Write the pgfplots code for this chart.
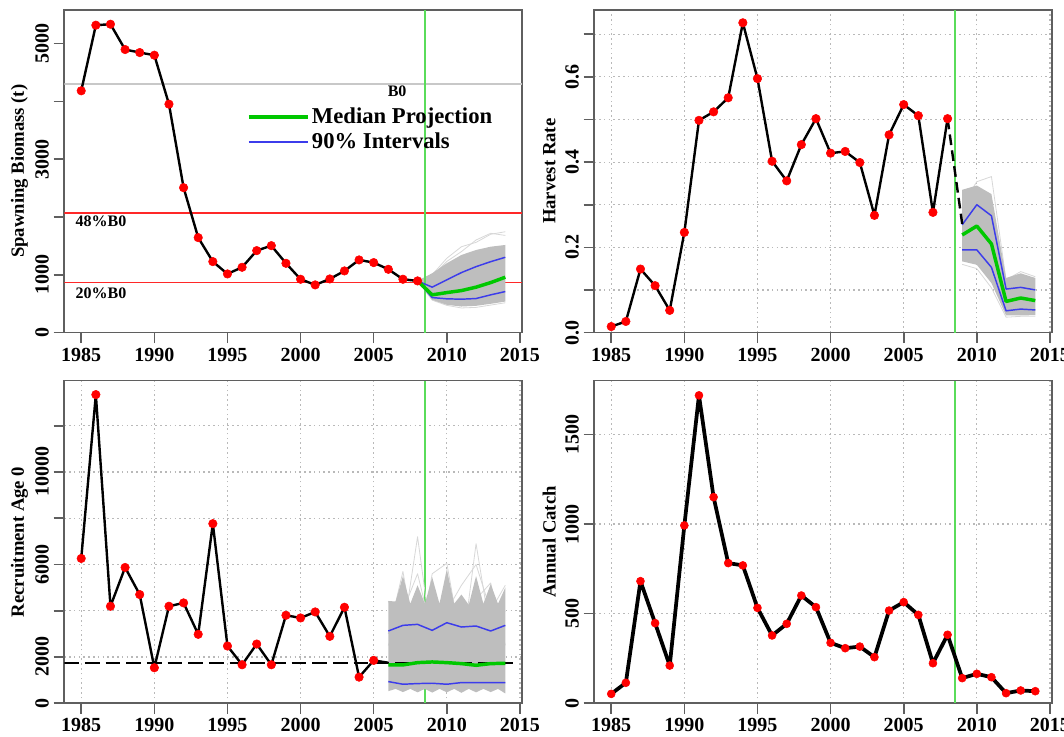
\documentclass[border=0pt]{standalone}
\usepackage{pgfplots}
\pgfplotsset{compat=1.18}
\usepackage{pgfplotstable}
\usepackage{fontspec}
\setmainfont{Liberation Serif}

\definecolor{boxgray}{RGB}{95,95,95}
\definecolor{vgreen}{RGB}{90,220,90}
\definecolor{medgreen}{RGB}{0,200,0}
\definecolor{iblue}{RGB}{60,60,235}
\definecolor{fangray}{RGB}{190,190,190}
\definecolor{outgray}{RGB}{215,215,215}
\definecolor{b0gray}{RGB}{200,200,200}
\definecolor{gridgray}{RGB}{185,185,185}
\definecolor{refred}{RGB}{255,40,40}

% ---------------- data ----------------
\pgfplotstableread{
year val
1985 4182
1986 5317
1987 5334
1988 4896
1989 4844
1990 4798
1991 3951
1992 2506
1993 1642
1994 1227
1995 1014
1996 1129
1997 1417
1998 1503
1999 1198
2000 922
2001 824
2002 927
2003 1066
2004 1256
2005 1210
2006 1094
2007 922
2008 893
}\ssbobs
\pgfplotstableread{
year med lo hi
2008 893 893 893
2009 652 605 785
2010 691 583 911
2011 726 577 1037
2012 785 588 1140
2013 864 652 1226
2014 957 709 1302
}\ssbproj
\pgfplotstableread{
x ref
1983.84 2070
2015.16 2070
}\ssbfortyeight
\pgfplotstableread{
x ref
1983.84 864
2015.16 864
}\ssbtwenty

\pgfplotstableread{
year val
1985 0.014
1986 0.026
1987 0.149
1988 0.110
1989 0.052
1990 0.235
1991 0.498
1992 0.518
1993 0.551
1994 0.727
1995 0.596
1996 0.402
1997 0.356
1998 0.441
1999 0.502
2000 0.421
2001 0.425
2002 0.399
2003 0.275
2004 0.464
2005 0.535
2006 0.509
2007 0.282
2008 0.502
}\hrobs
\pgfplotstableread{
year med lo hi
2009 0.229 0.194 0.253
2010 0.250 0.194 0.300
2011 0.208 0.153 0.274
2012 0.073 0.051 0.102
2013 0.081 0.055 0.106
2014 0.075 0.053 0.100
}\hrproj

\pgfplotstableread{
year val
1985 6261
1986 13347
1987 4193
1988 5871
1989 4700
1990 1533
1991 4193
1992 4338
1993 2979
1994 7765
1995 2473
1996 1663
1997 2559
1998 1663
1999 3803
2000 3687
2001 3948
2002 2892
2003 4150
2004 1128
2005 1851
}\recobs
\pgfplotstableread{
year med lo hi
2006 1655 935 3123
2007 1655 820 3367
2008 1755 849 3410
2009 1784 863 3151
2010 1755 820 3482
2011 1712 892 3295
2012 1640 892 3339
2013 1712 892 3123
2014 1727 892 3367
}\recproj

\pgfplotstableread{
year val
1985 52
1986 114
1987 681
1988 447
1989 210
1990 992
1991 1718
1992 1150
1993 782
1994 769
1995 532
1996 378
1997 443
1998 601
1999 536
2000 337
2001 307
2002 316
2003 257
2004 517
2005 564
2006 493
2007 223
2008 382
2009 140
2010 164
2011 145
2012 56
2013 71
2014 67
}\catchobs

\pgfplotsset{
 panel/.style={
  scale only axis, width=343.5pt, height=241.9pt,
  xmin=1983.84, xmax=2015.16, ymin=0,
  scaled ticks=false,
  xtick={1985,1990,1995,2000,2005,2010,2015},
  xticklabels={1985,1990,1995,2000,2005,2010,2015},
  tick align=outside, tick pos=left,
  major tick length=8pt,
  axis line style={boxgray, line width=1.2pt},
  tick style={boxgray, line width=1.2pt},
  ticklabel style={font=\bfseries\fontsize{15}{17}\selectfont},
  yticklabel style={rotate=90, anchor=south},
  every axis y label/.style={at={(axis description cs:-0.098,0.5)}, rotate=90, anchor=center, font=\bfseries\fontsize{14}{16}\selectfont},
  grid style={gridgray, line width=0.9pt, dash pattern=on 1.2pt off 2.4pt},
  every axis plot/.append style={line join=round},
 },
 obsline/.style={black, line width=1.8pt, no marks, line join=round},
 obspts/.style={only marks, mark=*, mark size=3.2pt, draw=red, fill=red, mark options={draw=red, fill=red}},
 vline/.style={vgreen, line width=1pt, no marks},
 medline/.style={medgreen, line width=2.6pt, no marks},
 intline/.style={iblue, line width=1.1pt, no marks},
}

\begin{document}
\begin{tikzpicture}
\path[use as bounding box] (0,0) rectangle (798pt,-552.75pt);

% ================= Panel 1: Spawning biomass =================
\begin{axis}[panel, at={(48.2pt,-7.5pt)}, anchor=north west,
  ymax=5580,
  ytick={0,1000,2000,3000,4000,5000},
  yticklabels={0,1000,,3000,,5000},
  ylabel={Spawning Biomass (t)},
  legend style={draw=none, fill=none, at={(0.39,0.63)}, anchor=west,
    font=\bfseries\fontsize{17}{19}\selectfont, row sep=1.5pt},
  legend cell align=left,
  legend image code/.code={\draw[#1] (0pt,0pt) -- (35pt,0pt); \path (0pt,0pt) -- (44pt,0pt);},
]
\addplot[b0gray, line width=1.3pt, forget plot] coordinates {(1983.84,4297) (2015.16,4297)};
\addplot[draw=refred, line width=1.2pt, forget plot] table[x=x, y=ref] {\ssbtwenty};
\addplot[draw=refred, line width=1.5pt, forget plot] table[x=x, y=ref] {\ssbfortyeight};
% outlier simulation lines
\addplot[outgray, line width=0.6pt, forget plot] coordinates {(2008,893) (2009,1000) (2010,1285) (2011,1485) (2012,1560) (2013,1700) (2014,1744)};
\addplot[outgray, line width=0.6pt, forget plot] coordinates {(2008,893) (2009,980) (2010,1230) (2011,1400) (2012,1601) (2013,1717) (2014,1680)};
\addplot[outgray, line width=0.6pt, forget plot] coordinates {(2008,893) (2009,560) (2010,470) (2011,425) (2012,435) (2013,475) (2014,515)};
% dense fan
\addplot[fangray, fill=fangray, draw=none, forget plot] coordinates {
 (2008,893) (2009,1026) (2010,1199) (2011,1342) (2012,1428) (2013,1485) (2014,1515)
 (2014,536) (2013,497) (2012,462) (2011,450) (2010,479) (2009,565) (2008,893)};
\addplot[vline, forget plot] coordinates {(2008.5,0) (2008.5,5580)};
\addplot[intline, forget plot] table[x=year, y=lo] {\ssbproj};
\addplot[intline, forget plot] table[x=year, y=hi] {\ssbproj};
\addplot[medline, forget plot] table[x=year, y=med] {\ssbproj};
\addplot[obspts, forget plot] table[x=year, y=val] {\ssbobs};
\addplot[obsline, forget plot] table[x=year, y=val] {\ssbobs};
\addlegendimage{medgreen, line width=2.6pt}
\addlegendentry{Median Projection}
\addlegendimage{iblue, line width=2pt}
\addlegendentry{90\% Intervals}
\node[font=\bfseries\fontsize{12}{14}\selectfont] at (axis cs:2006.6,4178) {B0};
\node[font=\bfseries\fontsize{12}{14}\selectfont, anchor=west] at (axis cs:1984.3,1929) {48\%B0};
\node[font=\bfseries\fontsize{12}{14}\selectfont, anchor=west] at (axis cs:1984.3,683) {20\%B0};
\end{axis}

% ================= Panel 2: Harvest rate =================
\begin{axis}[panel, at={(445.7pt,-7.5pt)}, anchor=north west,
  ymax=0.757,
  ytick={0,0.1,0.2,0.3,0.4,0.5,0.6,0.7},
  yticklabels={0.0,,0.2,,0.4,,0.6,},
  ylabel={Harvest Rate},
  grid=major,
]
\addplot[vline] coordinates {(2008.5,0) (2008.5,0.757)};
\addplot[outgray, line width=0.6pt] coordinates {(2009,0.30) (2010,0.354) (2011,0.366) (2012,0.124) (2013,0.143) (2014,0.131)};
\addplot[outgray, line width=0.6pt] coordinates {(2009,0.16) (2010,0.15) (2011,0.105) (2012,0.036) (2013,0.038) (2014,0.038)};
\addplot[fangray, fill=fangray, draw=none] coordinates {
 (2009,0.335) (2010,0.345) (2011,0.325) (2012,0.128) (2013,0.139) (2014,0.128)
 (2014,0.041) (2013,0.040) (2012,0.040) (2011,0.116) (2010,0.159) (2009,0.167)};
\addplot[intline] table[x=year, y=lo] {\hrproj};
\addplot[intline] table[x=year, y=hi] {\hrproj};
\addplot[medline] table[x=year, y=med] {\hrproj};
\addplot[black, line width=1.8pt, dash pattern=on 8pt off 4pt] coordinates {(2008,0.502) (2009,0.255)};
\addplot[obspts] table[x=year, y=val] {\hrobs};
\addplot[obsline] table[x=year, y=val] {\hrobs};
\end{axis}

% ================= Panel 3: Recruitment =================
\begin{axis}[panel, at={(48.2pt,-285.5pt)}, anchor=north west,
  ymax=13950,
  ytick={0,2000,4000,6000,8000,10000,12000},
  yticklabels={0,2000,,6000,,10000,},
  ylabel={Recruitment Age 0},
  grid=major,
]
\addplot[vline] coordinates {(2008.5,0) (2008.5,13950)};
\addplot[outgray, line width=0.6pt] coordinates {(2006,4420) (2007,3000) (2008,7200) (2009,2500) (2010,3500) (2011,2000) (2012,6900) (2013,3000) (2014,4000)};
\addplot[outgray, line width=0.6pt] coordinates {(2006,3000) (2007,5700) (2008,2000) (2009,5600) (2010,6050) (2011,2500) (2012,4500) (2013,5200) (2014,2500)};
\addplot[outgray, line width=0.6pt] coordinates {(2006,2500) (2007,4000) (2008,5600) (2009,3000) (2010,4000) (2011,5100) (2012,6000) (2013,4000) (2014,5100)};
\addplot[fangray, fill=fangray, draw=none] coordinates {
 (2006,4420) (2006.5,4400) (2007,5500) (2007.5,4300) (2008,5100) (2008.5,4300) (2009,5450) (2009.5,4300)
 (2010,5800) (2010.5,4300) (2011,4700) (2011.5,4250) (2012,5500) (2012.5,4300) (2013,5150) (2013.5,4300) (2014,5000)
 (2014,420) (2013.5,620) (2013,480) (2012.5,620) (2012,470) (2011.5,620) (2011,450) (2010.5,620) (2010,470)
 (2009.5,620) (2009,460) (2008.5,620) (2008,470) (2007.5,620) (2007,480) (2006.5,620) (2006,520)};
\addplot[black, line width=1.8pt, dash pattern=on 11pt off 4.5pt] coordinates {(1983.84,1740) (2014.5,1740)};
\addplot[intline] table[x=year, y=lo] {\recproj};
\addplot[intline] table[x=year, y=hi] {\recproj};
\addplot[medline] table[x=year, y=med] {\recproj};
\addplot[obspts] table[x=year, y=val] {\recobs};
\addplot[obsline] table[x=year, y=val] {\recobs};
\addplot[obsline] coordinates {(2005,1851) (2006,1750)};
\end{axis}

% ================= Panel 4: Annual catch =================
\begin{axis}[panel, at={(445.7pt,-285.5pt)}, anchor=north west,
  ymax=1800,
  ytick={0,500,1000,1500},
  yticklabels={0,500,1000,1500},
  ylabel={Annual Catch},
  grid=major,
]
\addplot[vline] coordinates {(2008.5,0) (2008.5,1800)};
\addplot[obspts, mark size=3pt] table[x=year, y=val] {\catchobs};
\addplot[black, line width=2.8pt, no marks, line join=round] table[x=year, y=val] {\catchobs};
\end{axis}
\end{tikzpicture}
\end{document}
